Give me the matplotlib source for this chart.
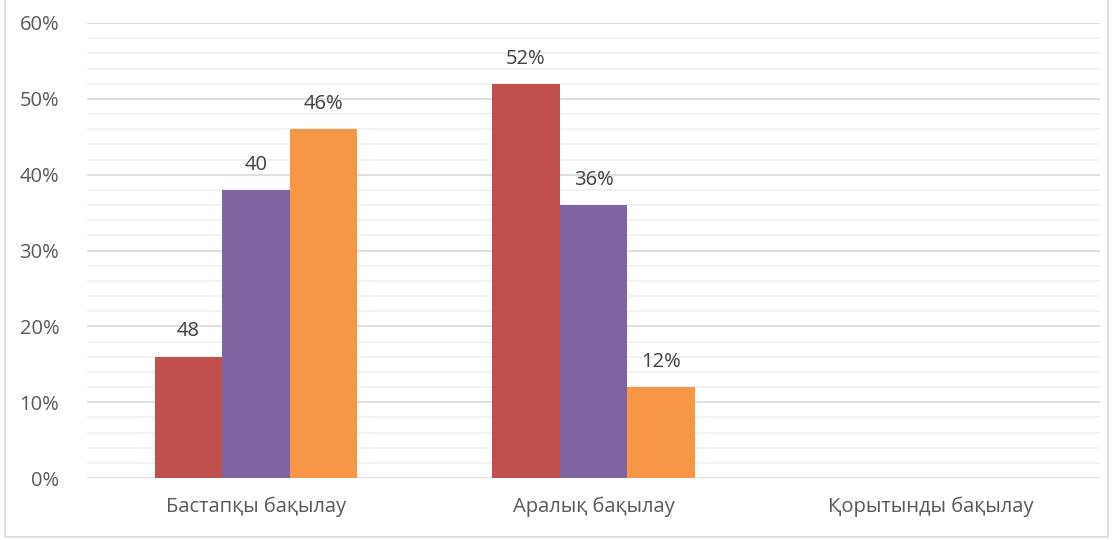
import matplotlib
matplotlib.use('Agg')
import matplotlib.pyplot as plt
from matplotlib.patches import Rectangle
import numpy as np

categories = ['Бастапқы бақылау', 'Аралық бақылау', 'Қорытынды бақылау']
red_vals = [16, 52, 0]
purple_vals = [38, 36, 0]
orange_vals = [46, 12, 0]
red_labels = ['48', '52%', '']
purple_labels = ['40', '36%', '']
orange_labels = ['46%', '12%', '']

plt.rcParams['font.family'] = ['Open Sans', 'DejaVu Sans']

fig = plt.figure(figsize=(11.13, 5.4), dpi=100)
ax = fig.add_axes([87 / 1113, 1 - 478 / 540, (1100 - 87) / 1113, (478 - 23) / 540])

x = np.arange(len(categories))
w = 0.2
series = [(red_vals, red_labels, '#C0504D'),
          (purple_vals, purple_labels, '#8064A2'),
          (orange_vals, orange_labels, '#F79646')]
for k, (vals, labs, col) in enumerate(series):
    pos = x + (k - 1) * w
    ax.bar(pos, vals, width=w, color=col, zorder=3)
    for p, v, t in zip(pos, vals, labs):
        if t:
            ax.text(p, v + 2.0, t, ha='center', va='bottom', fontsize=14.5, color='#404040')

ax.set_xlim(-0.5, 2.5)
ax.set_ylim(0, 60)
ax.set_yticks(range(0, 61, 10))
ax.set_yticks(range(0, 61, 2), minor=True)
ax.set_yticklabels([f'{v}%' for v in range(0, 61, 10)])
ax.set_xticks(x)
ax.set_xticklabels(categories)
ax.grid(axis='y', which='major', color='#D9D9D9', linewidth=1.2, zorder=0)
ax.grid(axis='y', which='minor', color='#F0F0F0', linewidth=1.2, zorder=0)
ax.tick_params(axis='both', which='both', length=0, labelsize=14.5, labelcolor='#595959')
ax.tick_params(axis='x', pad=13)
ax.tick_params(axis='y', pad=20)
for s in ax.spines.values():
    s.set_visible(False)

fig.patches.append(Rectangle((5 / 1113, 3 / 540), 1 - 10 / 1113, 1 - 2 / 540,
                             transform=fig.transFigure, fill=False,
                             edgecolor='#D9D9D9', linewidth=1.2))

plt.savefig('out.png', dpi=100)
